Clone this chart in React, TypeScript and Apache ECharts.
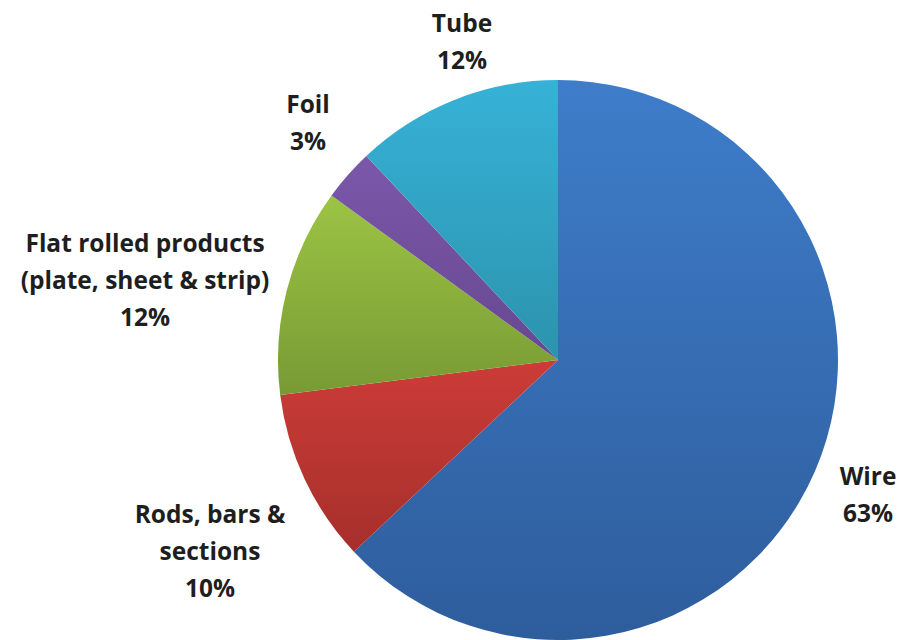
import React, { useEffect, useRef } from "react";
import * as echarts from "echarts";

const categories = ["Wire", "Rods, bars &\nsections", "Flat rolled products\n(plate, sheet & strip)", "Foil", "Tube"];
const values = [63, 10, 12, 3, 12];
const topColors = ["#3e7dca", "#cc3c38", "#9cc444", "#7b57a9", "#36b2d7"];
const bottomColors = ["#2e5d9c", "#a62f2b", "#789a34", "#674891", "#2c93ad"];
const labelPos: [number, number][] = [
  [868, 494],
  [210, 550],
  [145, 279],
  [308, 122],
  [462, 41],
];

export default function App() {
  const ref = useRef<HTMLDivElement>(null);
  useEffect(() => {
    if (!ref.current) return;
    const chart = echarts.init(ref.current, undefined, { renderer: "svg" });
    chart.setOption({
      animation: false,
      backgroundColor: "#ffffff",
      series: [
        {
          type: "pie",
          center: [558, 360],
          radius: 280,
          startAngle: 90,
          clockwise: true,
          data: categories.map((c, i) => ({
            name: c,
            value: values[i],
            itemStyle: {
              color: new echarts.graphic.LinearGradient(0, 0, 0, 1, [
                { offset: 0, color: topColors[i] },
                { offset: 1, color: bottomColors[i] },
              ]),
            },
          })),
          label: {
            show: true,
            position: "outside",
            formatter: "{b}\n{c}%",
            fontFamily: "Open Sans",
            fontWeight: "bold",
            fontSize: 24.5,
            lineHeight: 37,
            color: "#1e1e1e",
            align: "center",
            width: 320,
            overflow: "none",
          },
          labelLine: { show: false },
          labelLayout: (p: any) => {
            const pos = labelPos[p.dataIndex];
            return { x: pos[0], y: pos[1], align: "center", verticalAlign: "middle" };
          },
          emphasis: { disabled: true },
        },
      ],
    });
    return () => chart.dispose();
  }, []);
  return <div ref={ref} style={{ width: 904, height: 640, position: "absolute", left: 0, top: 0 }} />;
}
